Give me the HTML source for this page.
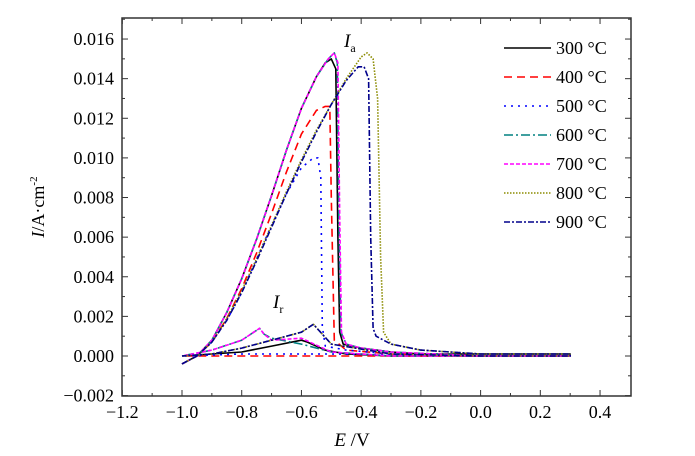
<!DOCTYPE html>
<html><head><meta charset="utf-8"><style>
body{margin:0;background:#fff;width:695px;height:456px;overflow:hidden}
svg{display:block}
svg text{font-family:"Liberation Serif","Times New Roman",Times,serif !important}
</style></head><body>
<svg id="chart" width="695" height="456" viewBox="0 0 695 456" xmlns="http://www.w3.org/2000/svg" style="font-family:'Liberation Serif','Times New Roman',serif">
<g id="grid"></g>
<g id="series"></g>
<g id="legend"></g>
<g font-size="18" text-anchor="middle" font-family="Liberation Serif, Times New Roman, serif">
<text x="122.3" y="418">−1.2</text>
<text x="182" y="418">−1.0</text>
<text x="241.7" y="418">−0.8</text>
<text x="301.4" y="418">−0.6</text>
<text x="361.2" y="418">−0.4</text>
<text x="420.9" y="418">−0.2</text>
<text x="480.6" y="418">0.0</text>
<text x="540.3" y="418">0.2</text>
<text x="600" y="418">0.4</text>
</g>
<g font-size="18" text-anchor="end" font-family="Liberation Serif, Times New Roman, serif">
<text x="114" y="401.6">−0.002</text>
<text x="114" y="362">0.000</text>
<text x="114" y="322.4">0.002</text>
<text x="114" y="282.8">0.004</text>
<text x="114" y="243.1">0.006</text>
<text x="114" y="203.5">0.008</text>
<text x="114" y="163.9">0.010</text>
<text x="114" y="124.3">0.012</text>
<text x="114" y="84.7">0.014</text>
<text x="114" y="45">0.016</text>
</g>
<g font-size="18" font-family="Liberation Serif, Times New Roman, serif">
<text x="556" y="54">300 °C</text>
<text x="556" y="83">400 °C</text>
<text x="556" y="112">500 °C</text>
<text x="556" y="141">600 °C</text>
<text x="556" y="170">700 °C</text>
<text x="556" y="199">800 °C</text>
<text x="556" y="228">900 °C</text>
</g>
<text x="344" y="47" font-size="19" font-style="italic">I<tspan font-size="12" font-style="normal" dy="5">a</tspan></text>
<text x="273" y="308" font-size="19" font-style="italic">I<tspan font-size="12" font-style="normal" dy="5">r</tspan></text>
<text x="352" y="446" font-size="19" text-anchor="middle"><tspan font-style="italic">E</tspan> /V</text>
<text transform="translate(44,207) rotate(-90)" font-size="18" text-anchor="middle"><tspan font-style="italic">I</tspan>/A·cm<tspan font-size="11" dy="-7">-2</tspan></text>
</svg>
<script>
const xTicks=[-1.2,-1.0,-0.8,-0.6,-0.4,-0.2,0.0,0.2,0.4];
const yTicks=[-0.002,0,0.002,0.004,0.006,0.008,0.010,0.012,0.014,0.016];
const seriesNames=["300","400","500","600","700","800","900"];
const s300E=[-1.0,-0.95,-0.9,-0.85,-0.8,-0.75,-0.7,-0.65,-0.6,-0.55,-0.52,-0.5,-0.485,-0.478,-0.472,-0.46,-0.4,-0.3,-0.2,0.0,0.3,0.3,0.0,-0.3,-0.45,-0.52,-0.58,-0.6,-0.7,-0.8,-0.9,-1.0];
const s300I=[-0.0004,0,0.0008,0.0022,0.0039,0.0059,0.0081,0.0104,0.0125,0.0141,0.0148,0.0150,0.0145,0.006,0.0012,0.0006,0.0004,0.0002,0.0001,0.0001,0.0001,0,0,0,0.0001,0.0003,0.0007,0.0008,0.0005,0.0002,0.0001,0];
const s400E=[-1.0,-0.95,-0.9,-0.85,-0.8,-0.75,-0.7,-0.65,-0.6,-0.55,-0.52,-0.505,-0.5,-0.49,-0.45,-0.3,0.0,0.3,0.3,0.0,-0.5,-0.8,-1.0];
const s400I=[-0.0004,0,0.0007,0.0019,0.0034,0.0052,0.0072,0.0093,0.0112,0.0124,0.0126,0.0126,0.008,0.0008,0.0003,0.0001,0,0,0,0,0,0,0];
const s500E=[-1.0,-0.95,-0.9,-0.85,-0.8,-0.75,-0.7,-0.65,-0.6,-0.56,-0.545,-0.535,-0.53,-0.52,-0.45,-0.3,0.0,0.3,0.3,0.0,-0.5,-0.8,-1.0];
const s500I=[-0.0004,0,0.0007,0.0018,0.0032,0.0049,0.0066,0.0082,0.0095,0.0100,0.0100,0.0090,0.0015,0.0005,0.0003,0.0001,0,0,0,0,0.0001,0.0001,0];
const s600E=[-1.0,-0.95,-0.9,-0.85,-0.8,-0.75,-0.7,-0.65,-0.6,-0.55,-0.51,-0.49,-0.48,-0.475,-0.468,-0.45,-0.4,-0.3,0.0,0.3,0.3,0.0,-0.3,-0.5,-0.6,-0.7,-0.725,-0.74,-0.8,-0.9,-1.0];
const s600I=[-0.0004,0,0.0008,0.0022,0.0039,0.0059,0.0081,0.0104,0.0125,0.0141,0.0150,0.0153,0.0148,0.007,0.0012,0.0006,0.0004,0.0002,0,0,0,0,0,0.0002,0.0006,0.0009,0.0011,0.0014,0.0008,0.0003,0];
const s700E=[-1.0,-0.95,-0.9,-0.85,-0.8,-0.75,-0.7,-0.65,-0.6,-0.55,-0.51,-0.49,-0.478,-0.472,-0.466,-0.45,-0.4,-0.3,0.0,0.3,0.3,0.0,-0.3,-0.5,-0.6,-0.7,-0.725,-0.74,-0.8,-0.9,-1.0];
const s700I=[-0.0004,0,0.0008,0.0022,0.0039,0.0059,0.0081,0.0104,0.0125,0.0141,0.0150,0.0153,0.0148,0.007,0.0012,0.0006,0.0004,0.0002,0,0,0,0,0,0.0002,0.0009,0.0008,0.0011,0.0014,0.0008,0.0003,0];
const s800E=[-1.0,-0.95,-0.9,-0.85,-0.8,-0.75,-0.7,-0.65,-0.6,-0.55,-0.5,-0.45,-0.4,-0.38,-0.36,-0.345,-0.335,-0.325,-0.3,-0.2,0.0,0.3,0.3,0.0,-0.3,-0.5,-0.56,-0.6,-0.7,-0.8,-0.9,-1.0];
const s800I=[-0.0004,0,0.0007,0.0019,0.0033,0.0049,0.0066,0.0083,0.0099,0.0114,0.0127,0.0140,0.0151,0.0153,0.0150,0.013,0.005,0.0012,0.0006,0.0003,0.0001,0.0001,0,0,0.0001,0.0006,0.0016,0.0012,0.0008,0.0004,0.0001,0];
const s900E=[-1.0,-0.95,-0.9,-0.85,-0.8,-0.75,-0.7,-0.65,-0.6,-0.55,-0.5,-0.45,-0.41,-0.39,-0.375,-0.368,-0.36,-0.35,-0.3,-0.2,-0.1,0.0,0.3,0.3,0.0,-0.3,-0.5,-0.56,-0.6,-0.7,-0.8,-0.9,-1.0];
const s900I=[-0.0004,0,0.0007,0.0018,0.0032,0.0048,0.0065,0.0082,0.0098,0.0113,0.0127,0.0139,0.0146,0.0146,0.0140,0.006,0.0014,0.0010,0.0006,0.0003,0.0002,0.0001,0.0001,0,0,0.0001,0.0006,0.0016,0.0012,0.0008,0.0004,0.0001,0];
const seriesE=[s300E,s400E,s500E,s600E,s700E,s800E,s900E];
const seriesI=[s300I,s400I,s500I,s600I,s700I,s800I,s900I];
const colors=["#000","#f00","#00f","#008080","#f0f","#8b8b00","#00008b"];
const dashes=["none","8,5","2,5","9,3,2,3","4,2","1.5,1.5","6,2,2,2"];
const X0=122,X1=631,Y0=18,Y1=396;
const xs=e=>182+(e+1)*298.6;
const ys=v=>356-v*19810;
const NS="http://www.w3.org/2000/svg";
function mk(t,a,p){const el=document.createElementNS(NS,t);for(const k in a)el.setAttribute(k,a[k]);p.appendChild(el);return el;}
const g=document.getElementById('grid');
const frame=mk('rect',{x:X0,y:Y0,width:X1-X0,height:Y1-Y0,fill:'none',stroke:'#333','stroke-width':1.5},g);


xTicks.forEach((v,i)=>{const x=xs(v);
 mk('line',{x1:x,y1:Y1,x2:x,y2:Y1-6,stroke:'#333'},g);
 mk('line',{x1:x,y1:Y0,x2:x,y2:Y0+6,stroke:'#333'},g);
 if(i<xTicks.length-1){const xm=xs(v+0.1);mk('line',{x1:xm,y1:Y1,x2:xm,y2:Y1-3,stroke:'#333'},g);mk('line',{x1:xm,y1:Y0,x2:xm,y2:Y0+3,stroke:'#333'},g);}
});
yTicks.forEach((v,i)=>{const y=ys(v);
 mk('line',{x1:X0,y1:y,x2:X0+6,y2:y,stroke:'#333'},g);
 mk('line',{x1:X1,y1:y,x2:X1-6,y2:y,stroke:'#333'},g);
 const ym=ys(v+0.001);if(ym>Y0){mk('line',{x1:X0,y1:ym,x2:X0+3,y2:ym,stroke:'#333'},g);mk('line',{x1:X1,y1:ym,x2:X1-3,y2:ym,stroke:'#333'},g);}
});
const sg=document.getElementById('series');
seriesE.forEach((E,k)=>{const I=seriesI[k];
 const d=E.map((e,i)=>(i?'L':'M')+xs(e).toFixed(1)+','+ys(I[i]).toFixed(1)).join(' ');
 const p=mk('path',{d:d,fill:'none',stroke:colors[k],'stroke-width':1.6,'stroke-dasharray':dashes[k],'stroke-linejoin':'round'},sg);
 
 
});
const lg=document.getElementById('legend');
seriesNames.forEach((n,k)=>{const y=48+k*29;
 const l=mk('line',{x1:504,y1:y,x2:551,y2:y,stroke:colors[k],'stroke-width':1.6,'stroke-dasharray':dashes[k]},lg);
 
 
});
</script>
</body></html>
